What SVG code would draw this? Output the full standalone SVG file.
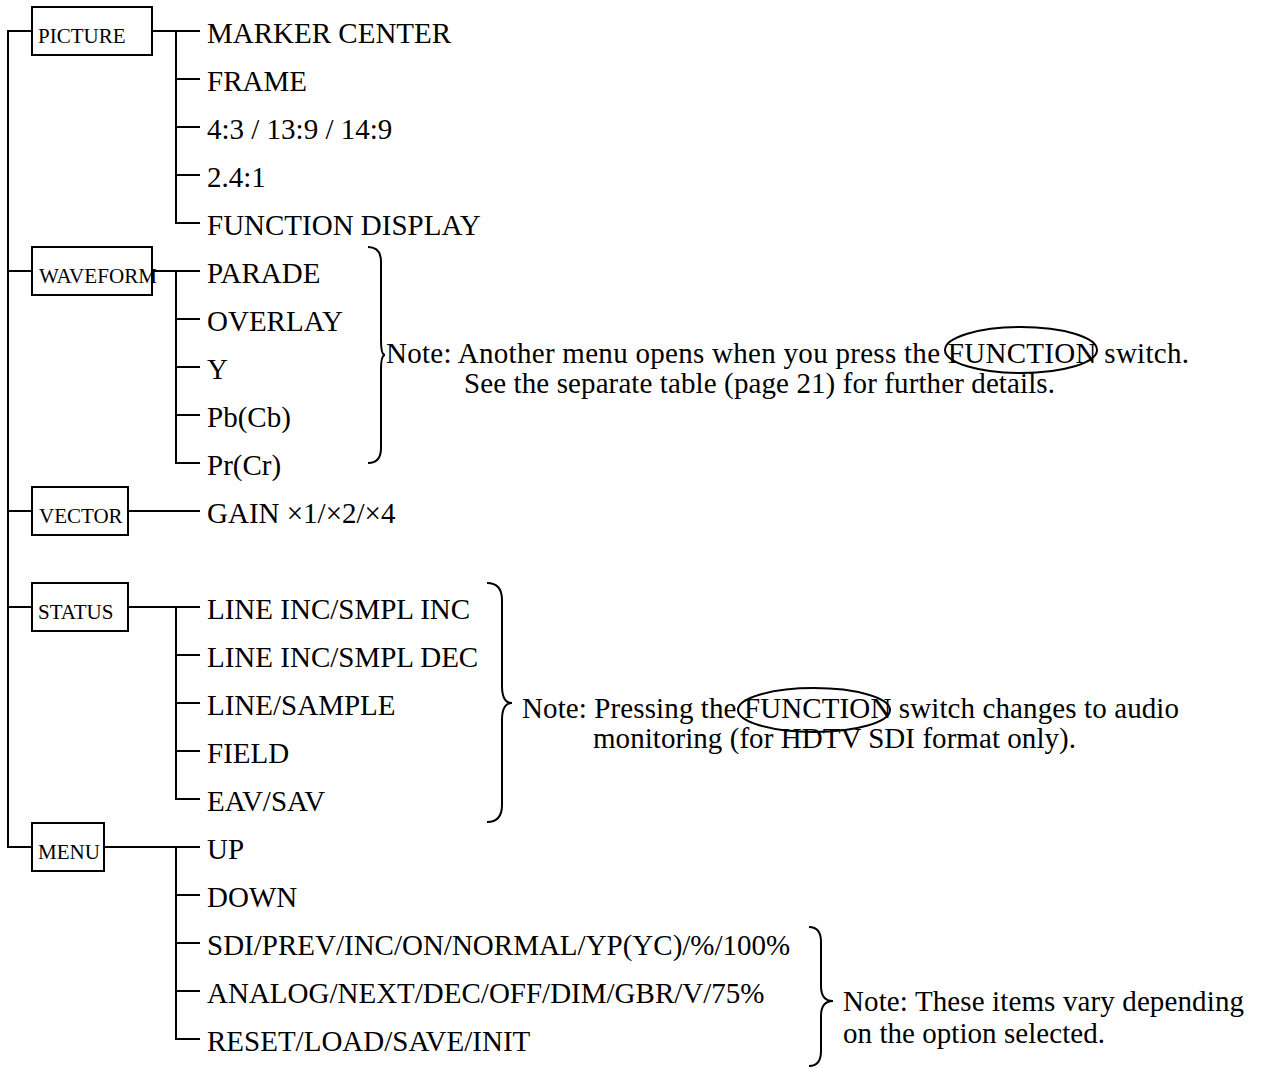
<svg xmlns="http://www.w3.org/2000/svg" width="1263" height="1069" viewBox="0 0 1263 1069">
<style>
  .ln { fill: none; stroke: #000; stroke-width: 2; }
  .box { fill: #fff; stroke: #000; stroke-width: 2; }
  .bl { font-family: "Liberation Serif", "Times New Roman", serif; font-size: 21px; fill: #000; }
  .it { font-family: "Liberation Serif", "Times New Roman", serif; font-size: 29px; fill: #000; }
  .nt { font-family: "Liberation Serif", "Times New Roman", serif; font-size: 29px; fill: #000; }
</style>
<rect width="1263" height="1069" fill="#fff"/>
<g id="connectors" class="ln">
  <path d="M32,31 H8 V847 H32"/>
  <path d="M8,271 H32 M8,511 H32 M8,607 H32"/>
  <path d="M152,31 H200 M176,31 V223 H200 M176,79 H200 M176,127 H200 M176,175 H200"/>
  <path d="M152,271 H200 M176,271 V463 H200 M176,319 H200 M176,367 H200 M176,415 H200"/>
  <path d="M128,511 H200"/>
  <path d="M128,607 H200 M176,607 V799 H200 M176,655 H200 M176,703 H200 M176,751 H200"/>
  <path d="M104,847 H200 M176,847 V1039 H200 M176,895 H200 M176,943 H200 M176,991 H200"/>
</g>
<g id="node-picture">
  <rect class="box" x="32" y="7" width="120" height="48"/>
  <text class="bl" x="38" y="43">PICTURE</text>
</g>
<g id="node-waveform">
  <rect class="box" x="32" y="247" width="120" height="48"/>
  <text class="bl" x="39" y="283" textLength="118" lengthAdjust="spacingAndGlyphs">WAVEFORM</text>
</g>
<g id="node-vector">
  <rect class="box" x="32" y="487" width="96" height="48"/>
  <text class="bl" x="39" y="523">VECTOR</text>
</g>
<g id="node-status">
  <rect class="box" x="32" y="583" width="96" height="48"/>
  <text class="bl" x="38" y="619">STATUS</text>
</g>
<g id="node-menu">
  <rect class="box" x="32" y="823" width="72" height="48"/>
  <text class="bl" x="38" y="859">MENU</text>
</g>
<g id="items-picture" class="it">
  <text x="207" y="43">MARKER CENTER</text>
  <text x="207" y="91">FRAME</text>
  <text x="207" y="139">4:3 / 13:9 / 14:9</text>
  <text x="207" y="187">2.4:1</text>
  <text x="207" y="235">FUNCTION DISPLAY</text>
</g>
<g id="items-waveform" class="it">
  <text x="207" y="283">PARADE</text>
  <text x="207" y="331">OVERLAY</text>
  <text x="207" y="379">Y</text>
  <text x="207" y="427">Pb(Cb)</text>
  <text x="207" y="475">Pr(Cr)</text>
</g>
<g id="items-vector" class="it">
  <text x="207" y="523">GAIN ×1/×2/×4</text>
</g>
<g id="items-status" class="it">
  <text x="207" y="619">LINE INC/SMPL INC</text>
  <text x="207" y="667">LINE INC/SMPL DEC</text>
  <text x="207" y="715">LINE/SAMPLE</text>
  <text x="207" y="763">FIELD</text>
  <text x="207" y="811">EAV/SAV</text>
</g>
<g id="items-menu" class="it">
  <text x="207" y="859">UP</text>
  <text x="207" y="907">DOWN</text>
  <text x="207" y="955">SDI/PREV/INC/ON/NORMAL/YP(YC)/%/100%</text>
  <text x="207" y="1003">ANALOG/NEXT/DEC/OFF/DIM/GBR/V/75%</text>
  <text x="207" y="1051">RESET/LOAD/SAVE/INIT</text>
</g>
<g id="note-waveform">
  <path class="ln" d="M368,247 Q381,247 381,262 L381,340 Q381,355 385,355 Q381,355 381,370 L381,448 Q381,463 368,463"/>
  <text class="nt" x="386" y="363" textLength="803" lengthAdjust="spacing">Note: Another menu opens when you press the FUNCTION switch.</text>
  <text class="nt" x="464" y="393" textLength="591" lengthAdjust="spacing">See the separate table (page 21) for further details.</text>
  <ellipse class="ln" cx="1021" cy="350" rx="76" ry="23"/>
</g>
<g id="note-status">
  <path class="ln" d="M487,583 Q502,583 502,600 L502,686 Q502,703 512,703 Q502,703 502,720 L502,805 Q502,822 487,822"/>
  <text class="nt" x="522" y="718" textLength="657" lengthAdjust="spacing">Note: Pressing the FUNCTION switch changes to audio</text>
  <text class="nt" x="593" y="748" textLength="483" lengthAdjust="spacing">monitoring (for HDTV SDI format only).</text>
  <ellipse class="ln" cx="814" cy="710" rx="76" ry="22"/>
</g>
<g id="note-menu">
  <path class="ln" d="M809,927 Q821,927 821,942 L821,986 Q821,1001 833,1001 Q821,1001 821,1016 L821,1051 Q821,1066 809,1066"/>
  <text class="nt" x="843" y="1011" textLength="401" lengthAdjust="spacing">Note: These items vary depending</text>
  <text class="nt" x="843" y="1043" textLength="262" lengthAdjust="spacing">on the option selected.</text>
</g>
</svg>
